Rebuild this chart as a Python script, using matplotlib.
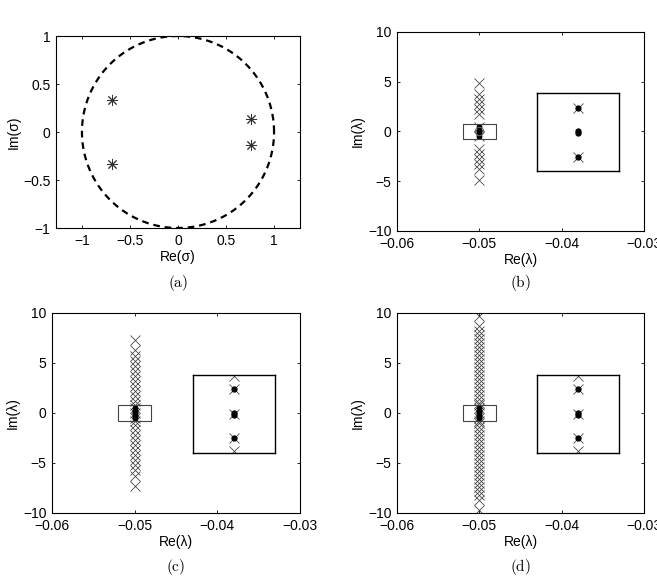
import numpy as np
import matplotlib
matplotlib.use('Agg')
import matplotlib.pyplot as plt
from matplotlib.patches import Rectangle

plt.rcParams['font.family'] = ['Liberation Sans', 'DejaVu Sans']
plt.rcParams['mathtext.fontset'] = 'cm'

# (a) eigenvalues sigma on the unit circle plane
a_re = [-0.69, -0.69, 0.76, 0.76]
a_im = [0.335, -0.335, 0.135, -0.135]

# (b) lambda, all at Re = -0.05
b_cross_im = [4.9, 3.8, 3.3, 2.8, 2.3, 1.8, 0.5, -0.5,
              -1.8, -2.3, -2.8, -3.3, -3.8, -4.9]
b_dot_im = [0.5, 0.04, -0.04, -0.5]
b_circle_im = [0.0]
b_zoom_cross_im = [0.5, -0.5]
b_zoom_dot_im = [0.5, 0.025, -0.025, -0.5]

# (c)
c_cross_im = [7.3, 6.3, 5.7, 5.2, 4.7, 4.2, 3.7, 3.2, 2.7, 2.2, 1.7, 1.2,
              0.76, 0.5, 0.0, -0.5, -0.76, -1.2, -1.7, -2.2, -2.7, -3.2,
              -3.7, -4.2, -4.7, -5.2, -5.7, -6.3, -7.3]
c_dot_im = [0.5, 0.25, 0.02, -0.02, -0.25, -0.5]
c_zoom_cross_im = [0.76, 0.5, 0.0, -0.5, -0.76]
c_zoom_dot_im = [0.5, 0.02, -0.02, -0.5]

# (d)
d_cross_im = [9.7, 8.7, 8.2, 7.8, 7.4, 7.0, 6.6, 6.2, 5.8, 5.4, 5.0, 4.6,
              4.2, 3.8, 3.4, 3.0, 2.6, 2.2, 1.8, 1.4, 1.0, 0.76, 0.5, 0.0,
              -0.5, -0.76, -1.0, -1.4, -1.8, -2.2, -2.6, -3.0, -3.4, -3.8,
              -4.2, -4.6, -5.0, -5.4, -5.8, -6.2, -6.6, -7.0, -7.4, -7.8,
              -8.2, -8.7, -9.7]
d_dot_im = [0.5, 0.25, 0.02, -0.02, -0.25, -0.5]
d_zoom_cross_im = [0.76, 0.5, 0.0, -0.5, -0.76]
d_zoom_dot_im = [0.5, 0.02, -0.02, -0.5]

RE_MODE = -0.05
LAM_XTICKS = [-0.06, -0.05, -0.04, -0.03]
LAM_YTICKS = [-10, -5, 0, 5, 10]
SIG_TICKS = [-1, -0.5, 0, 0.5, 1]
CROSS_COLOR = '#3a3a3a'

W, H = 657, 580
fig = plt.figure(figsize=(W / 100, H / 100), dpi=100)


def px_rect(l, t, r, b):
    return [l / W, 1 - b / H, (r - l) / W, (b - t) / H]


def style(ax):
    ax.tick_params(direction='in', length=2.5, width=0.6, top=True, right=True,
                   labelsize=10, pad=4, colors='black')
    for s in ax.spines.values():
        s.set_linewidth(0.8)


def lam_panel(box, tag_y, cross_im, dot_im, circle_im, zc_im, zd_im, tag):
    ax = fig.add_axes(px_rect(*box))
    style(ax)
    n = len(cross_im)
    ax.plot([RE_MODE] * n, cross_im, 'x', color=CROSS_COLOR, ms=7.2, mew=0.55)
    ax.plot([RE_MODE] * len(dot_im), dot_im, 'o', color='black', ms=3.2)
    if circle_im:
        ax.plot([RE_MODE] * len(circle_im), circle_im, 'o', mfc='none',
                mec='#666666', ms=6, mew=0.8)
    ax.add_patch(Rectangle((-0.052, -0.8), 0.004, 1.6, fill=False,
                           ec='#444444', lw=0.8, zorder=3))
    ax.set_xlim(-0.06, -0.03)
    ax.set_ylim(-10, 10)
    ax.set_xticks(LAM_XTICKS)
    ax.set_yticks(LAM_YTICKS)
    ax.set_xlabel('Re(λ)', fontsize=10, labelpad=2)
    ax.set_ylabel('Im(λ)', fontsize=10, labelpad=2)

    ins = ax.inset_axes([-0.043, -4.0, 0.010, 7.85], transform=ax.transData)
    ins.set_xticks([])
    ins.set_yticks([])
    for s in ins.spines.values():
        s.set_linewidth(1.0)
    ins.plot([RE_MODE] * len(zc_im), zc_im, 'x', color=CROSS_COLOR, ms=7.2, mew=0.55)
    ins.plot([RE_MODE] * len(zd_im), zd_im, 'o', color='black', ms=3.5)
    ins.set_xlim(-0.052, -0.048)
    ins.set_ylim(-0.8, 0.8)

    cx = (box[0] + box[2]) / 2
    fig.text(cx / W, 1 - tag_y / H, tag, ha='center', va='center', fontsize=11)
    return ax


# (a)
ax = fig.add_axes(px_rect(56, 36, 300, 228))
style(ax)
t = np.linspace(0, 2 * np.pi, 400)
ax.plot(np.cos(t), np.sin(t), color='black', lw=1.6, linestyle=(0, (3, 2.2)))
ax.plot(a_re, a_im, linestyle='none', marker=(8, 2, 0), color='#333333',
        ms=8, mew=0.7)
ax.set_xlim(-1.27, 1.27)
ax.set_ylim(-1, 1)
ax.set_xticks(SIG_TICKS)
ax.set_yticks(SIG_TICKS)
ax.set_xticklabels(['\u22121', '\u22120.5', '0', '0.5', '1'])
ax.set_yticklabels(['\u22121', '\u22120.5', '0', '0.5', '1'])
ax.set_xlabel('Re(σ)', fontsize=10, labelpad=2)
ax.set_ylabel('Im(σ)', fontsize=10, labelpad=2)
fig.text(178 / W, 1 - 283 / H, r'$\mathrm{(a)}$', ha='center', va='center', fontsize=11)

lam_panel((397, 32, 644, 231), 283, b_cross_im, b_dot_im, b_circle_im,
          b_zoom_cross_im, b_zoom_dot_im, r'$\mathrm{(b)}$')
lam_panel((52, 313, 300, 513), 567, c_cross_im, c_dot_im, [],
          c_zoom_cross_im, c_zoom_dot_im, r'$\mathrm{(c)}$')
lam_panel((397, 313, 644, 513), 567, d_cross_im, d_dot_im, [],
          d_zoom_cross_im, d_zoom_dot_im, r'$\mathrm{(d)}$')

fig.savefig('out.png', dpi=100)
